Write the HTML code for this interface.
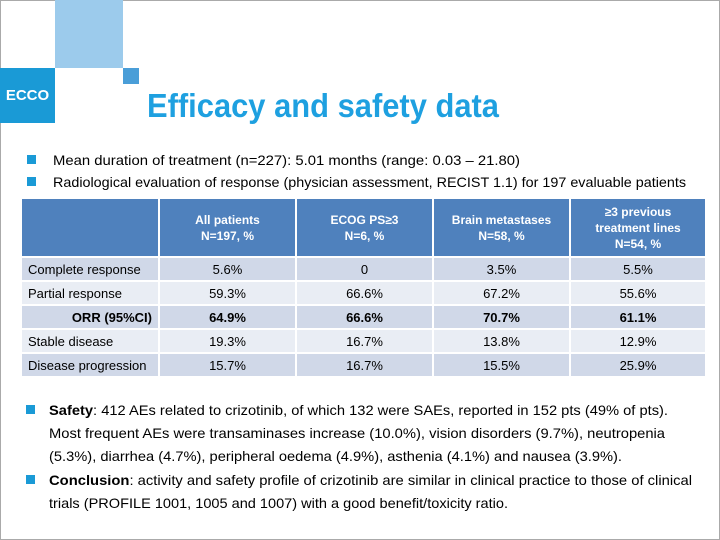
<!DOCTYPE html>
<html><head><meta charset="utf-8"><style>
body{margin:0;width:720px;height:540px;overflow:hidden;background:#fff;font-family:"Liberation Sans",sans-serif;position:relative}
.abs{position:absolute}
table{position:absolute;left:22px;top:199px;border-collapse:collapse;table-layout:fixed;font-size:13px;color:#000}
td,th{padding:0;border-right:2px solid #fff;border-bottom:2px solid #fff}
th{background:#4f81bd;color:#fff;font-weight:bold;height:57px;font-size:12px;line-height:16px}
td{height:22px;text-align:center}
tr.d td{background:#d0d8e8}tr.l td{background:#e9edf4}
td.lab{text-align:left;padding-left:6px}
</style></head><body>
<div class="abs" style="left:0;top:0;width:718px;height:538px;border:1px solid #aaa"></div>
<div class="abs" style="left:55px;top:0;width:68px;height:68px;background:#9ccbec"></div>
<div class="abs" style="left:123px;top:68px;width:16px;height:16px;background:#4a9ed8"></div>
<div class="abs" style="left:0;top:68px;width:55px;height:55px;background:#1a9ad6;color:#fff;font-weight:bold;font-size:15px;line-height:55px;text-align:center">ECCO</div>
<svg class="abs" style="left:0;top:0" width="720" height="540">
<text x="147" y="117" font-size="33" font-weight="bold" fill="#1ea0e0" textLength="352" lengthAdjust="spacingAndGlyphs">Efficacy and safety data</text>
<g fill="#1a9ad6">
<rect x="27" y="155" width="9" height="9"/>
<rect x="27" y="177" width="9" height="9"/>
<rect x="26" y="405" width="9" height="9"/>
<rect x="26" y="475" width="9" height="9"/>
</g>
<g font-size="14" fill="#000">
<text x="53" y="165" textLength="467" lengthAdjust="spacingAndGlyphs">Mean duration of treatment (n=227): 5.01 months (range: 0.03 – 21.80)</text>
<text x="53" y="187" textLength="633" lengthAdjust="spacingAndGlyphs">Radiological evaluation of response (physician assessment, RECIST 1.1) for 197 evaluable patients</text>
<text x="49" y="415" textLength="619" lengthAdjust="spacingAndGlyphs"><tspan font-weight="bold">Safety</tspan>: 412 AEs related to crizotinib, of which 132 were SAEs, reported in 152 pts (49% of pts).</text>
<text x="49" y="438" textLength="616" lengthAdjust="spacingAndGlyphs">Most frequent AEs were transaminases increase (10.0%), vision disorders (9.7%), neutropenia</text>
<text x="49" y="461" textLength="573" lengthAdjust="spacingAndGlyphs">(5.3%), diarrhea (4.7%), peripheral oedema (4.9%), asthenia (4.1%) and nausea (3.9%).</text>
<text x="49" y="485" textLength="643" lengthAdjust="spacingAndGlyphs"><tspan font-weight="bold">Conclusion</tspan>: activity and safety profile of crizotinib are similar in clinical practice to those of clinical</text>
<text x="49" y="508" textLength="459" lengthAdjust="spacingAndGlyphs">trials (PROFILE 1001, 1005 and 1007) with a good benefit/toxicity ratio.</text>
</g>
</svg>
<table>
<colgroup><col style="width:137px"><col style="width:137px"><col style="width:137px"><col style="width:137px"><col style="width:136px"></colgroup>
<tr><th></th><th>All patients<br>N=197, %</th><th>ECOG PS≥3<br>N=6, %</th><th>Brain metastases<br>N=58, %</th><th>≥3 previous<br>treatment lines<br>N=54, %</th></tr>
<tr class="d"><td class="lab">Complete response</td><td>5.6%</td><td>0</td><td>3.5%</td><td>5.5%</td></tr>
<tr class="l"><td class="lab">Partial response</td><td>59.3%</td><td>66.6%</td><td>67.2%</td><td>55.6%</td></tr>
<tr class="d" style="font-weight:bold"><td style="text-align:right;padding-right:6px">ORR (95%CI)</td><td>64.9%</td><td>66.6%</td><td>70.7%</td><td>61.1%</td></tr>
<tr class="l"><td class="lab">Stable disease</td><td>19.3%</td><td>16.7%</td><td>13.8%</td><td>12.9%</td></tr>
<tr class="d"><td class="lab">Disease progression</td><td>15.7%</td><td>16.7%</td><td>15.5%</td><td>25.9%</td></tr>
</table>
</body></html>
